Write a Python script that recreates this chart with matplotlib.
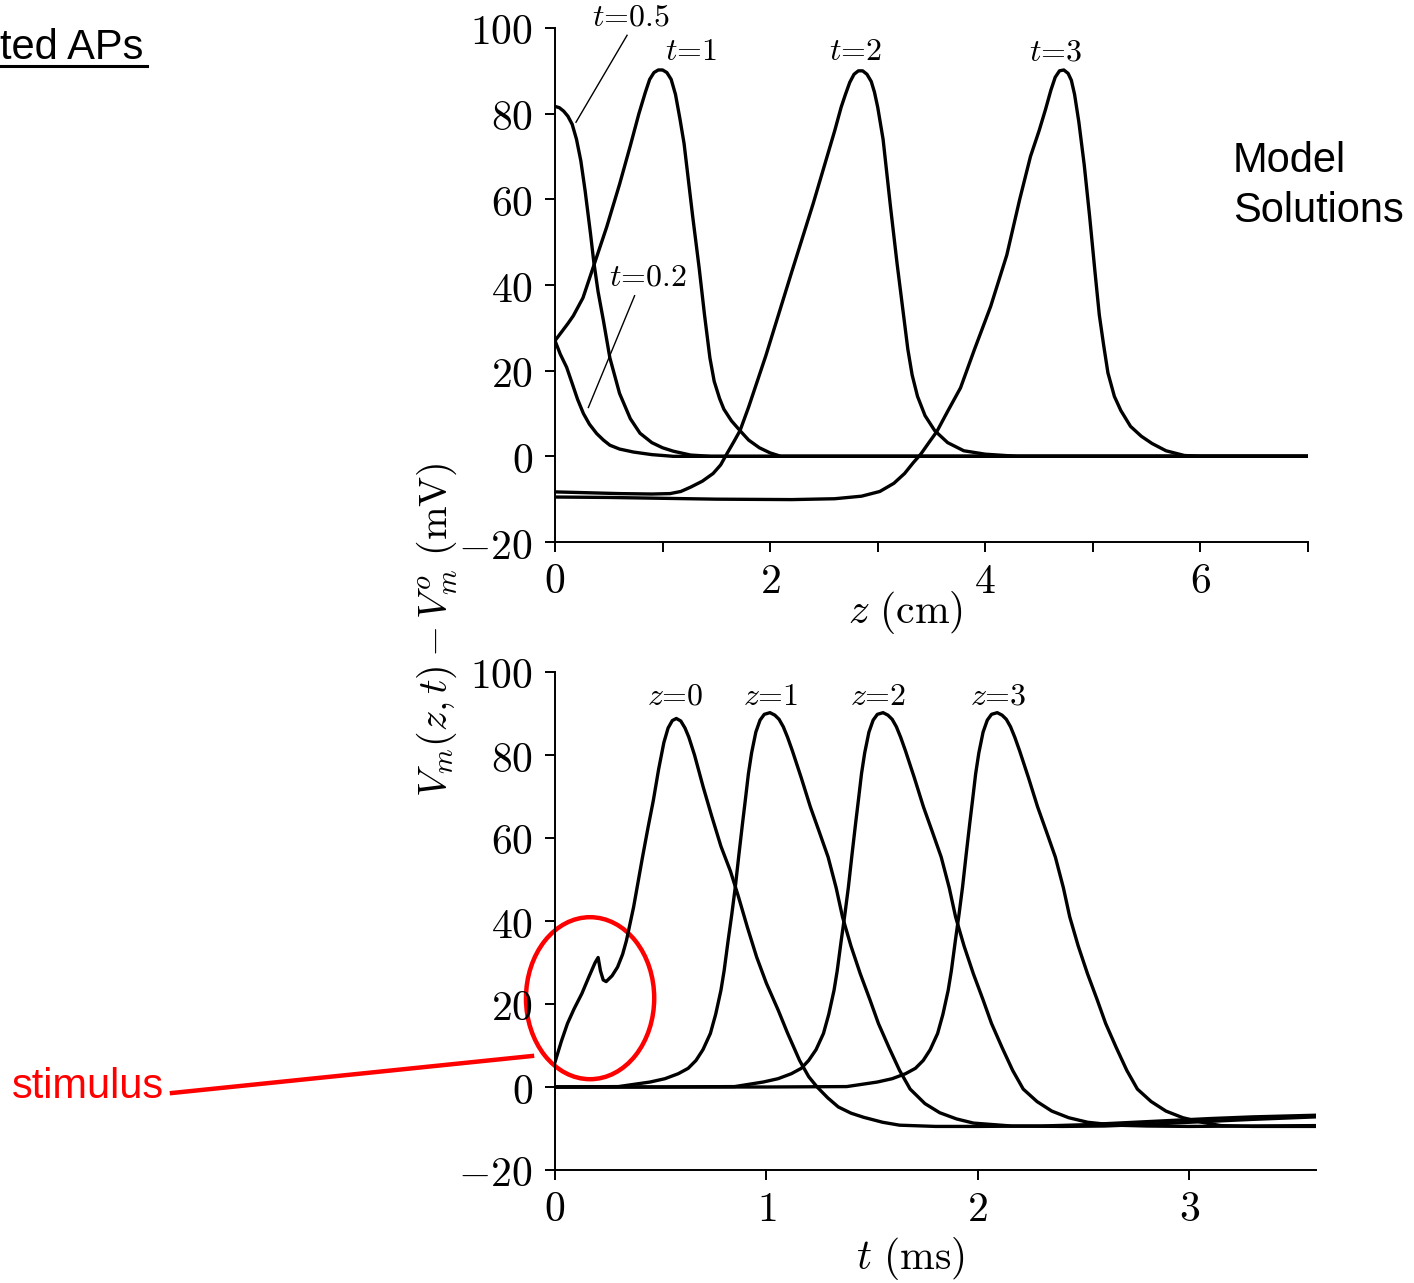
import matplotlib
matplotlib.use("Agg")
import matplotlib.pyplot as plt
from matplotlib.patches import Ellipse
from matplotlib.lines import Line2D
from matplotlib.ticker import FuncFormatter, MultipleLocator

plt.rcParams["mathtext.fontset"] = "cm"
plt.rcParams["font.family"] = ["DejaVu Serif"]

# ---- top panel: V vs z at fixed t ----
z_t02 = [0, 0.05, 0.108, 0.16, 0.21, 0.264, 0.32, 0.388, 0.45, 0.51, 0.6, 0.73, 0.9, 1.1, 7.0]
v_t02 = [27, 23.8, 20.8, 17, 13.3, 10, 7.5, 5.3, 3.8, 2.6, 1.7, 1.0, 0.4, 0, 0]

z_t05 = [0, 0.04, 0.08, 0.12, 0.16, 0.2, 0.24, 0.28, 0.33, 0.36, 0.4, 0.45, 0.51, 0.6, 0.7,
         0.79, 0.9, 1.0, 1.1, 1.26, 1.45, 7.0]
v_t05 = [81.7, 81.4, 80.6, 79.4, 77.5, 74, 69, 62, 52, 45.5, 38.5, 31.7, 23, 14.7, 8.8,
         5.4, 3.2, 2.0, 1.2, 0.3, 0, 0]

z_t1 = [0, 0.06, 0.12, 0.17, 0.26, 0.36, 0.48, 0.6, 0.7, 0.78, 0.84, 0.88, 0.92, 0.96, 1.0,
        1.04, 1.08, 1.12, 1.16, 1.2, 1.28, 1.34, 1.39, 1.44, 1.48, 1.53, 1.57, 1.64, 1.72,
        1.8, 1.9, 2.0, 2.1, 7.0]
v_t1 = [27, 29, 31, 32.8, 37, 44.5, 53.5, 63.5, 72.5, 80, 85, 88, 89.6, 90.2, 90.2,
        89.6, 88, 84.5, 79, 73, 56, 44, 33, 23, 17.5, 13.5, 11, 8.3, 6,
        3.8, 2, 0.8, 0, 0]

z_t2 = [0, 0.3, 0.6, 0.9, 1.07, 1.17, 1.26, 1.37, 1.47, 1.54, 1.6, 1.66, 1.72, 1.8, 1.88,
        1.96, 2.04, 2.12, 2.2, 2.3, 2.4, 2.5, 2.6, 2.66, 2.7, 2.74, 2.78, 2.82, 2.86, 2.9,
        2.94, 2.97, 3.0, 3.05, 3.12, 3.18, 3.24, 3.28, 3.32, 3.37, 3.44, 3.53, 3.65, 3.8,
        4.0, 4.3, 7.0]
v_t2 = [-8.3, -8.5, -8.7, -8.8, -8.7, -8.2, -7.2, -5.8, -4, -2, 0.7, 3.3, 6, 11.5, 17.5,
        23.5, 30, 36.5, 43, 51, 59, 67.5, 76, 81.5, 84.5, 87.3, 89.2, 90, 90, 89.2,
        87.5, 85, 81.5, 74, 58, 45, 33, 25, 19, 14, 9.5, 6, 3.2, 1.3,
        0.5, 0, 0]

z_t3 = [0, 0.5, 1.0, 1.5, 2.2, 2.6, 2.85, 3.02, 3.15, 3.25, 3.33, 3.4, 3.47, 3.55, 3.65,
        3.77, 3.9, 4.05, 4.2, 4.32, 4.42, 4.5, 4.56, 4.61, 4.65, 4.69, 4.73, 4.77, 4.8,
        4.83, 4.87, 4.92, 4.97, 5.02, 5.06, 5.1, 5.14, 5.2, 5.26, 5.35, 5.45, 5.55, 5.68,
        5.85, 6.0, 7.0]
v_t3 = [-9.5, -9.6, -9.8, -10, -10.1, -9.9, -9.3, -8.2, -6.3, -4.0, -1.5, 0.5, 3.0, 5.8, 10.5,
        16, 25, 35, 47, 60, 70, 76, 81, 85.5, 88.5, 90, 90.2, 89.4, 87.8,
        84.5, 78, 68, 56, 43, 33, 26, 19.5, 14, 10.7, 7, 4.7, 3, 1.3,
        0.2, 0, 0]

# ---- bottom panel: V vs t at fixed z ----
t_z0 = [0, 0.03, 0.059, 0.09, 0.127, 0.16, 0.19, 0.204, 0.215, 0.228, 0.242, 0.27, 0.296,
        0.32, 0.338, 0.372, 0.414, 0.44, 0.465, 0.49, 0.515, 0.535, 0.555, 0.574, 0.595,
        0.615, 0.633, 0.66, 0.701, 0.74, 0.785, 0.83, 0.867, 0.91, 0.954, 1.0, 1.056,
        1.1, 1.157, 1.2, 1.24, 1.29, 1.34, 1.4, 1.46, 1.55, 1.63, 1.8, 2.0, 2.3, 2.5,
        2.7, 2.9, 3.1, 3.3, 3.6]
v_z0 = [6, 11, 15.3, 18.8, 22.5, 26.5, 30, 31.2, 28, 25.8, 25.4, 26.8, 28.9,
        32, 35.3, 43.4, 55.4, 62.5, 69, 76.5, 83, 86.5, 88.3, 88.8, 88.2,
        86.5, 84.3, 80, 72.3, 65.5, 58, 52, 46, 38.5, 31.3, 25, 18.5,
        13, 6.4, 2.5, 0, -2.6, -4.8, -6.3, -7.3, -8.5, -9.2, -9.5, -9.5, -9.4, -9.1,
        -8.6, -8.1, -7.6, -7.2, -6.8]

t_z1 = [0, 0.3, 0.45, 0.52, 0.583, 0.63, 0.667, 0.7, 0.735, 0.76, 0.785, 0.8, 0.819, 0.836,
        0.853, 0.87, 0.887, 0.9, 0.915, 0.93, 0.95, 0.97, 0.99, 1.017, 1.04, 1.06, 1.08,
        1.1, 1.123, 1.165, 1.208, 1.25, 1.292, 1.33, 1.36, 1.4, 1.444, 1.49, 1.53, 1.58,
        1.63, 1.68, 1.75, 1.82, 1.9, 1.98, 2.16, 2.4, 2.6, 2.8, 3.0, 3.3, 3.6]
v_z1 = [0, 0.1, 1.2, 2, 3.2, 4.5, 6.4, 9, 12.9, 17.5, 23.3, 28, 35.3, 41.5,
        48.2, 56, 63.5, 69, 75.5, 80.5, 85.5, 88.4, 89.8, 90.2, 89.6, 88.6, 86.8,
        84.3, 81, 74.5, 67.5, 61.5, 55.4, 48, 41, 34, 27.3, 21, 15.3, 9.5,
        4, -0.5, -4, -6.2, -7.7, -8.7, -9.4, -9.5, -9.4, -9.0, -8.5, -7.8, -7.2]

t_z2 = [0, 0.5, 0.85, 0.985, 1.055, 1.118, 1.165, 1.2, 1.235, 1.27, 1.295, 1.32, 1.335,
        1.354, 1.371, 1.388, 1.405, 1.422, 1.435, 1.45, 1.465, 1.485, 1.505, 1.525, 1.552,
        1.575, 1.595, 1.615, 1.635, 1.658, 1.7, 1.743, 1.785, 1.827, 1.865, 1.895, 1.935,
        1.979, 2.025, 2.065, 2.115, 2.165, 2.215, 2.28, 2.35, 2.43, 2.52, 2.65, 2.8, 3.0,
        3.3, 3.6]
v_z2 = [0, 0, 0.1, 1.2, 2, 3.2, 4.5, 6.4, 9, 12.9, 17.5, 23.3, 28,
        35.3, 41.5, 48.2, 56, 63.5, 69, 75.5, 80.5, 85.5, 88.4, 89.8, 90.2,
        89.6, 88.6, 86.8, 84.3, 81, 74.5, 67.5, 61.5, 55.4, 48, 41, 34,
        27.3, 21, 15.3, 9.5, 4, -0.5, -3.5, -5.8, -7.4, -8.5, -9.2, -9.4, -9.5,
        -9.4, -9.3]

t_z3 = [0, 1.0, 1.38, 1.525, 1.595, 1.658, 1.705, 1.742, 1.775, 1.81, 1.835, 1.86, 1.875,
        1.894, 1.911, 1.928, 1.945, 1.962, 1.975, 1.99, 2.005, 2.025, 2.045, 2.065, 2.092,
        2.115, 2.135, 2.155, 2.175, 2.198, 2.24, 2.283, 2.325, 2.367, 2.405, 2.435, 2.475,
        2.519, 2.565, 2.605, 2.655, 2.705, 2.755, 2.82, 2.89, 2.97, 3.06, 3.15, 3.3, 3.6]
v_z3 = [0, 0, 0.1, 1.2, 2, 3.2, 4.5, 6.4, 9, 12.9, 17.5, 23.3, 28,
        35.3, 41.5, 48.2, 56, 63.5, 69, 75.5, 80.5, 85.5, 88.4, 89.8, 90.2,
        89.6, 88.6, 86.8, 84.3, 81, 74.5, 67.5, 61.5, 55.4, 48, 41, 34,
        27.3, 21, 15.3, 9.5, 4, -0.5, -3.5, -5.8, -7.4, -8.5, -9.3, -9.5, -9.5]

top_labels = ["t=0.2", "t=0.5", "t=1", "t=2", "t=3"]
bottom_labels = ["z=0", "z=1", "z=2", "z=3"]

W, H = 1414, 1283
LW = 2.4
TICK_FS = 30


def fx(px):
    return px / W


def fy(py):
    return 1 - py / H


def style_axes(ax, xmax):
    ax.spines["top"].set_visible(False)
    ax.spines["right"].set_visible(False)
    for s in ("left", "bottom"):
        ax.spines[s].set_linewidth(1.4)
    ax.set_xlim(0, xmax)
    ax.set_ylim(-20, 100)
    ax.yaxis.set_major_locator(MultipleLocator(20))
    ax.xaxis.set_major_locator(MultipleLocator(1))
    ax.yaxis.set_major_formatter(FuncFormatter(lambda v, p: f"${v:g}$"))
    ax.tick_params(axis="both", direction="out", length=7, width=1.4,
                   labelsize=TICK_FS)
    ax.tick_params(axis="y", pad=9)
    ax.tick_params(axis="x", pad=6)


def mtext(ax, x, y, s):
    lhs, rhs = s.split("=")
    ax.text(x, y, f"${lhs}$={rhs}", ha="center", va="center", family="cmr10",
            fontsize=23, clip_on=False)


fig = plt.figure(figsize=(W / 100, H / 100), dpi=100)

ax1 = fig.add_axes([fx(555), fy(542), fx(1308 - 555), (542 - 28) / H])
ax2 = fig.add_axes([fx(555), fy(1170), fx(1316 - 555), (1170 - 672) / H])

style_axes(ax1, 7)
style_axes(ax2, 3.6)
ax1.xaxis.set_major_formatter(
    FuncFormatter(lambda v, p: f"${v:g}$" if int(round(v)) % 2 == 0 else ""))
ax2.xaxis.set_major_formatter(FuncFormatter(lambda v, p: f"${v:g}$"))

for zz, vv in [(z_t02, v_t02), (z_t05, v_t05), (z_t1, v_t1), (z_t2, v_t2), (z_t3, v_t3)]:
    ax1.plot(zz, vv, color="black", lw=LW, solid_joinstyle="round")

for tt, vv in [(t_z0, v_z0), (t_z1, v_z1), (t_z2, v_z2), (t_z3, v_z3)]:
    ax2.plot(tt, vv, color="black", lw=LW, solid_joinstyle="round")

# curve labels, top
mtext(ax1, 0.86, 41.8, top_labels[0])
mtext(ax1, 0.70, 102.3, top_labels[1])
mtext(ax1, 1.26, 94.3, top_labels[2])
mtext(ax1, 2.79, 94.3, top_labels[3])
mtext(ax1, 4.65, 94.3, top_labels[4])
ax1.plot([0.67, 0.195], [98.3, 78], color="black", lw=1.0, clip_on=False)
ax1.plot([0.74, 0.31], [37.5, 11.4], color="black", lw=1.0, clip_on=False)

# curve labels, bottom
for x, lab in zip([0.569, 1.02, 1.526, 2.095], bottom_labels):
    mtext(ax2, x, 94, lab)

# axis labels
fig.text(fx(906), fy(612), r"$z\ (\mathrm{cm})$", ha="center", va="center", fontsize=30)
fig.text(fx(910), fy(1258), r"$t\ (\mathrm{ms})$", ha="center", va="center", fontsize=30)
fig.text(fx(437), fy(630), r"$V_m(z,t) - V_m^o\ (\mathrm{mV})$", ha="center",
         va="center", rotation=90, fontsize=29)

# stimulus annotation
ell = Ellipse((0.166, 21.4), width=128 / 211, height=162 / 4.15, fill=False,
              edgecolor="#ff0000", lw=3.2, clip_on=False)
ax2.add_patch(ell)
fig.add_artist(Line2D([fx(172), fx(532)], [fy(1093), fy(1056)],
                      color="#ff0000", lw=3.2, transform=fig.transFigure))
fig.text(fx(12), fy(1098), "stimulus", color="#ff0000", fontsize=30,
         family="Liberation Sans", ha="left", va="baseline")

# slide text
fig.text(fx(1233), fy(172), "Model", fontsize=30, family="Liberation Sans",
         ha="left", va="baseline")
fig.text(fx(1233), fy(222), "Solutions", fontsize=30, family="Liberation Sans",
         ha="left", va="baseline")
fig.text(fx(0), fy(59), "ted APs", fontsize=30, family="Liberation Sans",
         ha="left", va="baseline")
fig.add_artist(Line2D([0, fx(147)], [fy(66), fy(66)], color="black", lw=2.2,
                      transform=fig.transFigure))

fig.savefig("out.png", dpi=100)
